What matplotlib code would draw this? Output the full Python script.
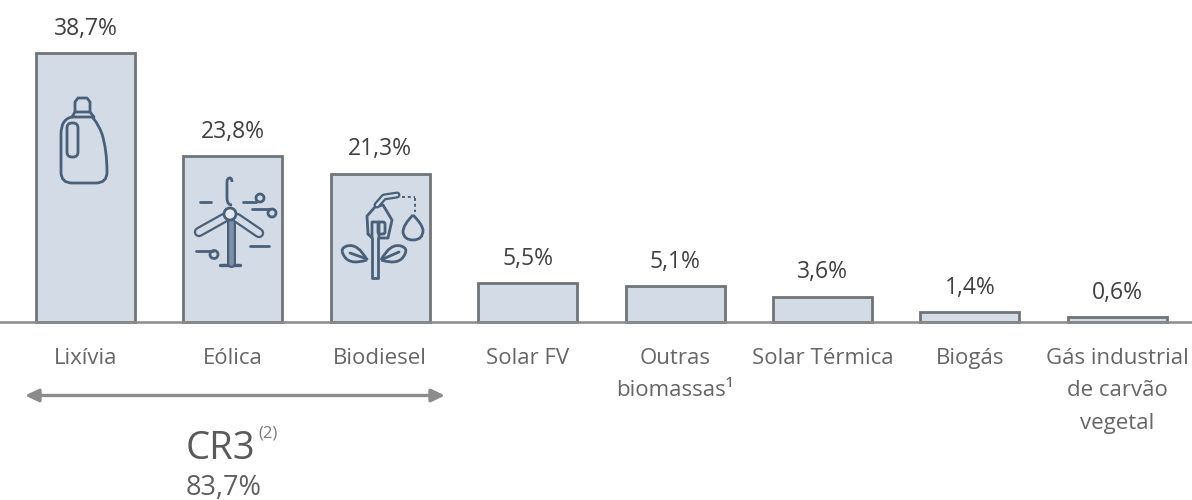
import numpy as np
import matplotlib
matplotlib.use("Agg")
import matplotlib.pyplot as plt
from matplotlib.patches import Circle, FancyBboxPatch, PathPatch
from matplotlib.path import Path

categories = ["Lixívia", "Eólica", "Biodiesel", "Solar FV", "Outras\nbiomassas¹",
              "Solar Térmica", "Biogás", "Gás industrial\nde carvão\nvegetal"]
values = [38.7, 23.8, 21.3, 5.5, 5.1, 3.6, 1.4, 0.6]
value_labels = ["38,7%", "23,8%", "21,3%", "5,5%", "5,1%", "3,6%", "1,4%", "0,6%"]
cr3_label = "CR3"
cr3_note = "(2)"
cr3_value = "83,7%"

plt.rcParams["font.family"] = ["Open Sans", "DejaVu Sans"]
W, H = 1192, 500
fig = plt.figure(figsize=(W / 100, H / 100), dpi=100)
ax = fig.add_axes([0, 0, 1, 1])
x0, dx = 85.4, 147.4
py = 6.94
base = 321.5
ax.set_xlim(-x0 / dx, (W - x0) / dx)
ax.set_ylim(-(H - base) / py, base / py)
ax.axis("off")

FILL, EDGE, LBL, VAL = "#d3dbe6", "#707478", "#666666", "#404040"
xs = np.arange(len(values))
ax.bar(xs, values, width=99 / dx, color=FILL, edgecolor=EDGE, linewidth=2.0, zorder=2)
ax.axhline(0, color="#8a8a8a", lw=1.8, zorder=3)
for i, (v, s, c) in enumerate(zip(values, value_labels, categories)):
    ax.annotate(s, (i, v), xytext=(0, 8.8), textcoords="offset points", ha="center", va="bottom",
                fontsize=16.5, color=VAL)
    ax.annotate(c, (i, 0), xytext=(0, -19), textcoords="offset points", ha="center", va="top",
                fontsize=16, color=LBL, linespacing=1.72)

# overlay in pixel coordinates for icons and the CR3 bracket
ov = fig.add_axes([0, 0, 1, 1], facecolor="none")
ov.set_xlim(0, W)
ov.set_ylim(H, 0)
ov.axis("off")
IC = "#4a6078"
LW = 2.0
def line(pts, lw=LW, color=IC, z=5, **kw):
    p = np.array(pts)
    ov.plot(p[:, 0], p[:, 1], color=color, lw=lw, solid_capstyle="round", solid_joinstyle="round", zorder=z, **kw)
def capsule(pts, w, z=5, inner=FILL):
    line(pts, lw=w, z=z)
    line(pts, lw=w - 3.2, color=inner, z=z + 0.1)
def smooth(verts, lw=LW, z=5, fc="none"):
    codes = [Path.MOVETO] + [Path.CURVE3] * (len(verts) - 1)
    ov.add_patch(PathPatch(Path(verts, codes), fc=fc, ec=IC, lw=lw, zorder=z))
def rbox(x, y, w, h, r, lw=LW, fc="none"):
    ov.add_patch(FancyBboxPatch((x + r, y + r), w - 2 * r, h - 2 * r, boxstyle=f"round,pad={r}",
                                fc=fc, ec=IC, lw=lw, zorder=5))

# bottle
line([(75, 112), (75, 102), (78, 98), (87, 98), (90, 102), (90, 112)])
line([(72, 117), (75, 112), (90, 112), (94, 117)])
smooth([(72, 117), (61, 119), (61, 134), (61, 155), (61, 172), (61, 183), (72, 183), (84, 183), (96, 183),
        (107, 183), (107, 172), (107, 150), (102, 134), (98, 123), (92, 117), (82, 117), (72, 117)])
rbox(67, 123, 11, 34, 5)

# wind turbine
capsule([(231, 222), (231, 263)], 6.5, inner="#7f90a6")
line([(220, 264.5), (240, 264.5)], lw=2.4)
capsule([(224, 218), (199, 232)], 7.5)
capsule([(237, 218), (259, 233)], 7.5)
ov.add_patch(Circle((230, 214), 6, fc="#e3e8ef", ec=IC, lw=LW, zorder=7))
smooth([(232, 205), (227, 205), (227, 198), (227, 190), (227, 182), (227, 178), (230, 178), (232, 178), (232, 182)])
line([(200, 202), (211, 202)])
line([(243, 202), (256, 202)])
ov.add_patch(Circle((260, 198), 4, fc="none", ec=IC, lw=LW, zorder=5))
line([(252, 209), (270, 209)])
ov.add_patch(Circle((272, 213), 4, fc="none", ec=IC, lw=LW, zorder=5))
line([(196, 250.5), (213, 250.5)])
ov.add_patch(Circle((214, 254.5), 4, fc="none", ec=IC, lw=LW, zorder=5))
line([(250, 246), (269, 246)])

# biodiesel pump and plant
line([(372, 238), (372, 278), (378, 278), (378, 238)])
line([(368, 234), (367, 216), (375, 207), (383, 205), (392, 220), (388, 238), (379, 238),
      (379, 222), (372, 222), (372, 238), (368, 234)])
rbox(378, 222, 7, 12, 2)
capsule([(377, 205), (384, 197), (397, 195)], 5)
ov.plot([402, 415], [197, 197], color=IC, lw=1.4, ls=(0, (1.5, 1.5)), zorder=5)
ov.plot([415, 415], [198, 212], color=IC, lw=1.4, ls=(0, (1.5, 1.5)), zorder=5)
smooth([(413, 215), (403, 225), (403, 232), (404, 240), (413, 240), (423, 240), (423, 230), (422, 224), (413, 215)])
smooth([(367, 260), (358, 243), (347, 246), (340, 248), (343, 254), (348, 266), (367, 260)])
smooth([(381, 260), (390, 243), (401, 246), (408, 248), (405, 254), (400, 266), (381, 260)])
line([(350, 253), (367, 259)])
line([(383, 259), (399, 252)])

# CR3 bracket
ov.annotate("", xy=(25, 395.5), xytext=(445, 395.5),
            arrowprops=dict(arrowstyle="<|-|>,head_length=0.8,head_width=0.38", color="#8c8c8c", lw=2.4,
                            shrinkA=0, shrinkB=0))
ov.text(186, 449, cr3_label, fontsize=27.5, color="#5a5a5a", ha="left", va="center")
ov.text(258, 434, cr3_note, fontsize=12, color="#7a7a7a", ha="left", va="center")
ov.text(186, 495, cr3_value, fontsize=19.5, color="#5f5f5f", ha="left", va="baseline")

fig.savefig("out.png", dpi=100, facecolor="white")
